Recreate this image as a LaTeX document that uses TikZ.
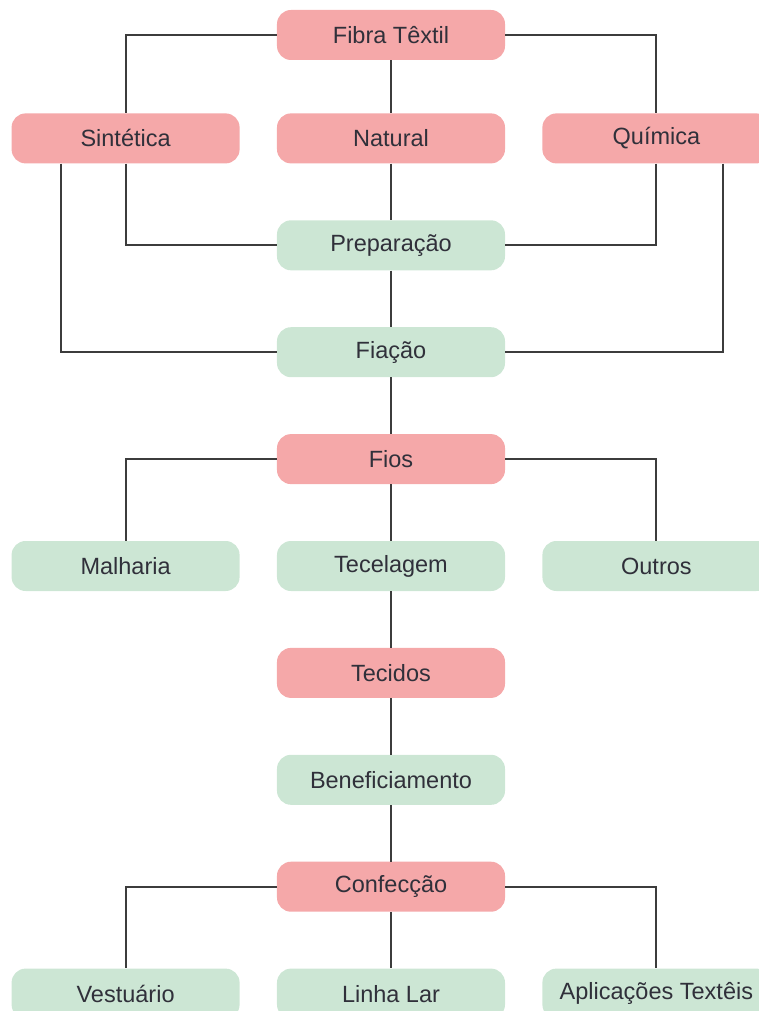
\documentclass[tikz,border=0pt]{standalone}
\usepackage{fontspec}
\setmainfont{Liberation Sans}
\usetikzlibrary{positioning}
\definecolor{rosa}{HTML}{F5A8A9}
\definecolor{verde}{HTML}{CCE6D4}
\definecolor{linha}{HTML}{3C3C3C}
\definecolor{texto}{HTML}{30303A}

\begin{document}
\begin{tikzpicture}[
    x=1pt, y=1pt,
    node distance=56.5pt and 37pt,
    box/.style={rectangle, minimum width=228pt, minimum height=50pt, inner sep=0pt, rounded corners=14pt, text=texto, font=\fontsize{23.5}{28}\selectfont},
    fibra/.style={box, fill=rosa},
    etapa/.style={box, fill=verde},
    link/.style={draw=linha, line width=2.1pt}
]
    \useasboundingbox (-391,35) rectangle (368,-976);

    % Fibras
    \node[fibra] (fibra) at (0,0) {Fibra Têxtil};
    \node[fibra, below=53pt of fibra] (natural) {Natural};
    \node[fibra, left=of natural] (sintetica) {Sintética};
    \node[fibra, right=of natural] (quimica) {Química};

    % Fiação
    \node[etapa, below=of natural] (prep) {Preparação};
    \node[etapa, below=of prep] (fiacao) {Fiação};
    \node[fibra, below=of fiacao] (fios) {Fios};

    % Tecidos
    \node[etapa, below=of fios] (tecelagem) {Tecelagem};
    \node[etapa, left=of tecelagem] (malharia) {Malharia};
    \node[etapa, right=of tecelagem] (outros) {Outros};
    \node[fibra, below=of tecelagem] (tecidos) {Tecidos};
    \node[etapa, below=of tecidos] (benef) {Beneficiamento};

    % Confecção
    \node[fibra, below=of benef] (confec) {Confecção};
    \node[etapa, below=of confec] (linhalar) {Linha Lar};
    \node[etapa, left=of linhalar] (vestuario) {Vestuário};
    \node[etapa, right=of linhalar] (aplic) {Aplicações Textêis};

    % Ligações
    \draw[link] (fibra.west) -| (sintetica.north);
    \draw[link] (fibra.east) -| (quimica.north);
    \draw[link] (fibra) -- (natural);
    \draw[link] (natural) -- (prep);
    \draw[link] (sintetica.south) |- (prep.west);
    \draw[link] (quimica.south) |- (prep.east);
    \draw[link] ([xshift=-65pt]sintetica.south) |- (fiacao.west);
    \draw[link] ([xshift=67pt]quimica.south) |- (fiacao.east);
    \draw[link] (prep) -- (fiacao);
    \draw[link] (fiacao) -- (fios);
    \draw[link] (fios.west) -| (malharia.north);
    \draw[link] (fios.east) -| (outros.north);
    \draw[link] (fios) -- (tecelagem);
    \draw[link] (tecelagem) -- (tecidos);
    \draw[link] (tecidos) -- (benef);
    \draw[link] (benef) -- (confec);
    \draw[link] (confec.west) -| (vestuario.north);
    \draw[link] (confec.east) -| (aplic.north);
    \draw[link] (confec) -- (linhalar);
\end{tikzpicture}
\end{document}
